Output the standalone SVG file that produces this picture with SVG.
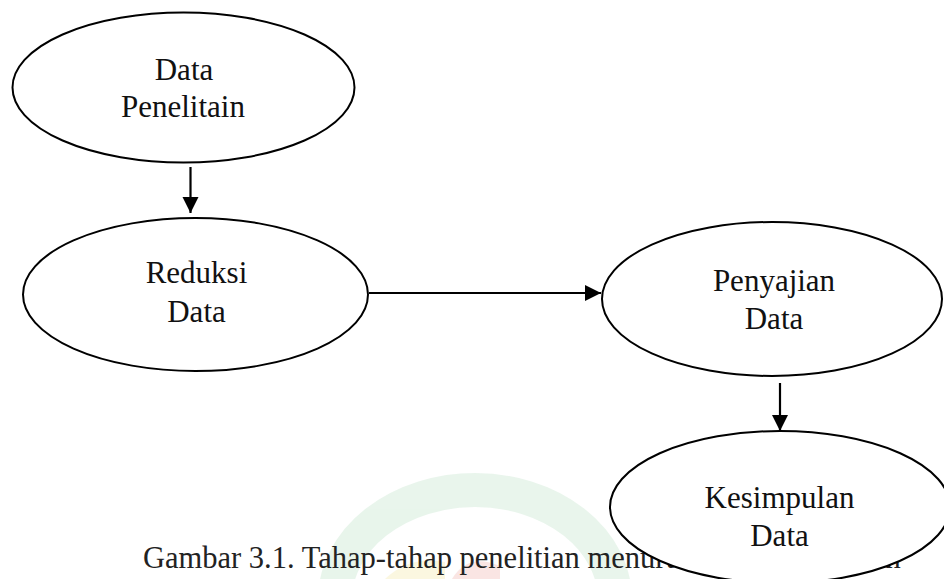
<svg xmlns="http://www.w3.org/2000/svg" width="944" height="579" viewBox="0 0 944 579">
  <style>
    .node ellipse { fill: #ffffff; stroke: #000000; stroke-width: 2; }
    .lbl { font-family: "Liberation Serif", "Times New Roman", serif; font-size: 31px; fill: #111111; text-anchor: middle; }
    .cap { font-family: "Liberation Serif", "Times New Roman", serif; font-size: 30.5px; fill: #222222; }
    .edge { stroke: #000000; stroke-width: 2.2; fill: none; }
  </style>
  <defs>
    <marker id="arrow" markerUnits="userSpaceOnUse" markerWidth="17" markerHeight="17" refX="16" refY="8" orient="auto">
      <path d="M0,0 L16,8 L0,16 Z" fill="#000000"/>
    </marker>
  </defs>
  <rect width="944" height="579" fill="#ffffff"/>

  <g id="watermark" opacity="0.35">
    <path d="M335,600 A140,110 0 0 1 615,600" fill="none" stroke="#bfe3c8" stroke-width="34"/>
    <path d="M385,579 Q410,555 445,562 L445,579 Z" fill="#f6e9a8"/>
    <path d="M452,579 Q468,552 500,566 L500,579 Z" fill="#f2b7b0"/>
  </g>

  <text class="cap" x="143" y="568">Gambar 3.1. Tahap-tahap penelitian menurut</text>
  <text class="cap" x="872" y="568">an</text>

  <g id="connectors">
    <line class="edge" x1="190.5" y1="167" x2="190.5" y2="213" marker-end="url(#arrow)"/>
    <line class="edge" x1="369" y1="293" x2="601" y2="293" marker-end="url(#arrow)"/>
    <line class="edge" x1="780" y1="383" x2="780" y2="431" marker-end="url(#arrow)"/>
  </g>

  <g id="node-data-penelitian" class="node">
    <ellipse cx="183.5" cy="87.5" rx="171" ry="75"/>
    <text class="lbl" x="184" y="80">Data</text>
    <text class="lbl" x="183" y="117">Penelitain</text>
  </g>

  <g id="node-reduksi-data" class="node">
    <ellipse cx="195.5" cy="294.5" rx="172.5" ry="76.5"/>
    <text class="lbl" x="196.5" y="283">Reduksi</text>
    <text class="lbl" x="196.5" y="322">Data</text>
  </g>

  <g id="node-penyajian-data" class="node">
    <ellipse cx="772" cy="299" rx="170" ry="77"/>
    <text class="lbl" x="774" y="291">Penyajian</text>
    <text class="lbl" x="774" y="329">Data</text>
  </g>

  <g id="node-kesimpulan-data" class="node">
    <ellipse cx="780" cy="507" rx="170" ry="76"/>
    <text class="lbl" x="779.5" y="508">Kesimpulan</text>
    <text class="lbl" x="779.5" y="546">Data</text>
  </g>
</svg>
